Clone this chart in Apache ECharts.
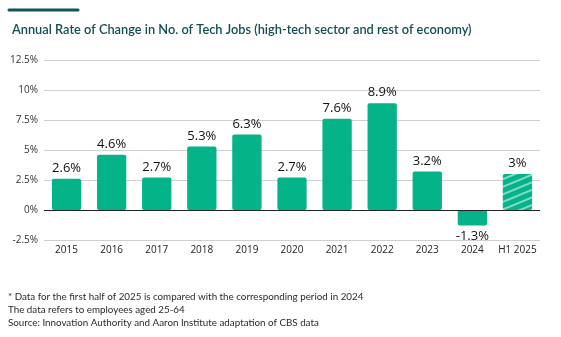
<!DOCTYPE html>
<html><head><meta charset="utf-8">
<script src="https://cdn.jsdelivr.net/npm/echarts@6/dist/echarts.min.js"></script>
<style>html,body{margin:0;padding:0;background:#fff}#c{width:561px;height:337px}</style>
</head><body><div id="c"></div>
<script>
const categories = ['2015','2016','2017','2018','2019','2020','2021','2022','2023','2024','H1 2025'];
const values = [2.6, 4.6, 2.7, 5.3, 6.3, 2.7, 7.6, 8.9, 3.2, -1.3, 3];
const yTicks = ['-2.5%','0%','2.5%','5%','7.5%','10%','12.5%'];
const titleText = 'Annual Rate of Change in No. of Tech Jobs (high-tech sector and rest of economy)';
const notes = [
  '* Data for the first half of 2025 is compared with the corresponding period in 2024',
  'The data refers to employees aged 25-64',
  'Source: Innovation Authority and Aaron Institute adaptation of CBS data'
];
const barColor = '#05b389';
const chart = echarts.init(document.getElementById('c'));
const data = values.map((v, i) => {
  const item = { value: v, label: { position: v < 0 ? 'bottom' : 'top' } };
  if (i === values.length - 1) {
    item.itemStyle = {
      color: barColor,
      decal: { symbol: 'rect', dashArrayX: [1, 0], dashArrayY: [1.2, 5], rotation: -Math.PI / 8, color: 'rgba(255,255,255,0.5)', symbolSize: 1 }
    };
  }
  return item;
});
chart.setOption({
  animation: false,
  textStyle: { fontFamily: 'Open Sans' },
  title: {
    text: titleText, left: 7, top: 18,
    textStyle: { fontFamily: 'Lato', fontSize: 12.8, fontWeight: 600, color: '#124e52' }
  },
  graphic: [
    { type: 'line', shape: { x1: 9, y1: 10, x2: 78, y2: 10 }, style: { stroke: '#0d5659', lineWidth: 3, lineCap: 'round' } },
    ...notes.map((t, i) => ({ type: 'text', left: 8, top: 292 + i * 13, style: { text: t, font: '9.8px Lato', fill: '#2a2a2a' } }))
  ],
  grid: { left: 44, right: 21, top: 60, bottom: 97 },
  xAxis: {
    type: 'category', data: categories,
    axisLine: { show: false }, axisTick: { show: false },
    axisLabel: { color: '#222', fontSize: 10, margin: 5, interval: 0, fontFamily: 'Open Sans' }
  },
  yAxis: {
    type: 'value', min: -2.5, max: 12.5, interval: 2.5,
    axisLabel: { color: '#333', fontSize: 10, margin: 6, formatter: v => yTicks[Math.round((v + 2.5) / 2.5)] },
    splitLine: { lineStyle: { color: '#cfcfcf', width: 1 } }
  },
  series: [{
    type: 'bar', data: data, barWidth: '65%',
    itemStyle: { color: barColor, borderRadius: 2 },
    label: { show: true, formatter: p => p.value + '%', color: '#111', fontSize: 13, distance: 4, fontFamily: 'Open Sans' },
    markLine: {
      silent: true, symbol: 'none', label: { show: false },
      lineStyle: { color: '#222', width: 1.2, type: 'solid' },
      data: [{ yAxis: 0 }]
    }
  }]
});
</script></body></html>
